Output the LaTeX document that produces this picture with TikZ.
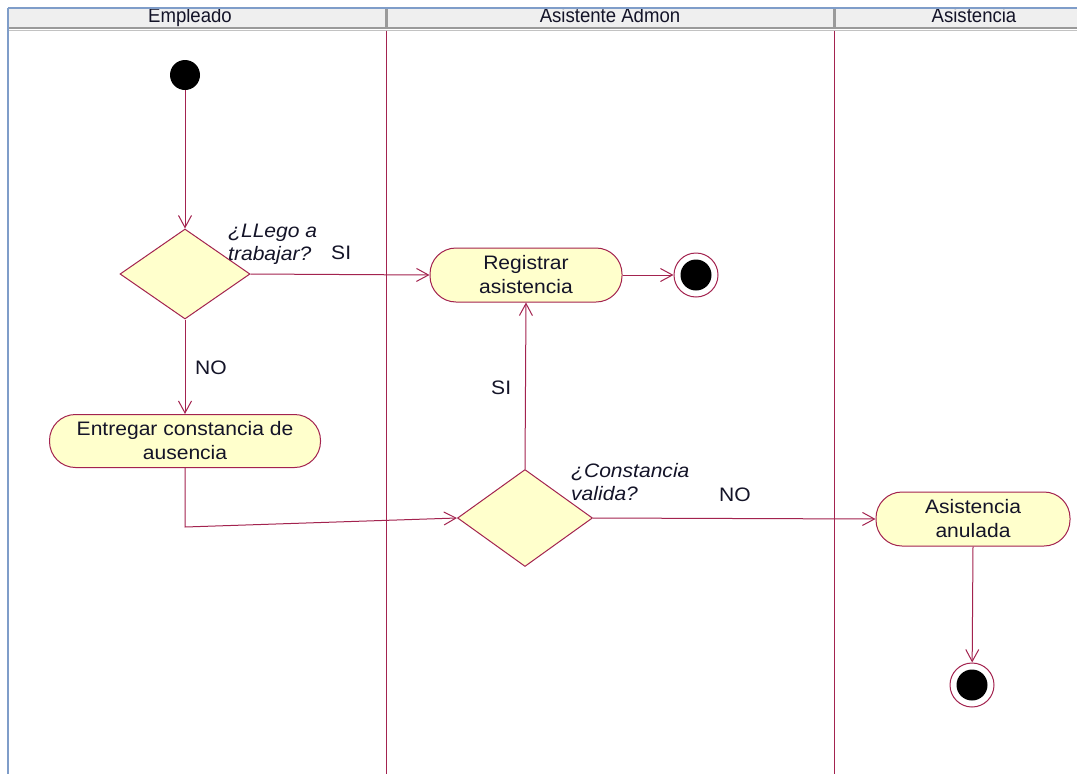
\documentclass[tikz,border=0pt]{standalone}
\usepackage{fontspec}
\usepackage{graphicx}
\setmainfont{Liberation Sans}[FakeStretch=1.08]
\usetikzlibrary{shapes.geometric,arrows.meta}
\definecolor{umlline}{HTML}{A3234F}
\definecolor{umlfill}{HTML}{FFFFCC}
\definecolor{umltext}{HTML}{141428}
\definecolor{lanegray}{HTML}{EFEFEF}
\definecolor{laneedge}{HTML}{9A9A9A}
\definecolor{frameblue}{HTML}{7F9DC9}
\tikzset{
  txt/.style={font=\fontsize{19.5}{24}\selectfont, text=umltext},
  activity/.style={draw=umlline, fill=umlfill, line width=1pt, rounded corners=26pt,
    inner sep=0pt, align=center, txt},
  decision/.style={draw=umlline, fill=umlfill, line width=1pt, diamond, inner sep=0pt},
  guard/.style={txt, inner sep=0pt, anchor=base west},
  question/.style={txt, font=\fontsize{19.5}{23}\selectfont\itshape, align=left,
    inner sep=0pt, anchor=north west},
  flow/.style={draw=umlline, line width=1pt, -{Straight Barb[length=12pt,width=13pt]}},
  lanehead/.style={font=\fontsize{20}{20}\selectfont, text=umltext, inner sep=0pt, anchor=base},
  laneline/.style={draw=umlline, line width=1pt},
}
\newcommand{\lanetitle}[1]{\scalebox{0.86}[1]{#1}}
\begin{document}
\begin{tikzpicture}[x=1pt,y=-1pt]
\useasboundingbox (0,0) rectangle (1077,774);
\fill[white] (0,0) rectangle (1077,774);

% swimlane header band
\fill[lanegray] (8,8) rectangle (1077,27);
\begin{scope}
  \clip (8,9) rectangle (1077,27);
  \node[lanehead] (h1) at (190,22) {\lanetitle{Empleado}};
  \node[lanehead] (h2) at (610,22) {\lanetitle{Asistente Admon}};
  \node[lanehead] (h3) at (974,22) {\lanetitle{Asistencia}};
\end{scope}
\draw[laneedge, line width=2pt] (8,28) -- (1077,28);
\draw[laneedge!60, line width=1pt] (8,30) -- (1077,30);
\draw[laneedge, line width=3pt] (386,9) -- (386,27) (834,9) -- (834,27);
\draw[frameblue, line width=1.2pt] (8,8) -- (1077,8);
\draw[frameblue, line width=1.2pt] (8,8) -- (8,774);

% lane separators
\draw[laneline] (386,30.5) -- (386,774);
\draw[laneline] (834,30.5) -- (834,774);

% nodes
\node[circle, fill=black, minimum size=30pt, inner sep=0pt] (start) at (185,75) {};
\node[decision, minimum width=130pt, minimum height=90pt] (d1) at (185,274) {};
\node[activity, minimum width=192pt, minimum height=54pt] (reg) at (526,275)
  {Registrar\\asistencia};
\node[circle, draw=umlline, fill=white, line width=1pt, minimum size=44pt, inner sep=0pt] (end1) at (696,275) {};
\node[circle, fill=black, minimum size=31pt, inner sep=0pt] (end1c) at (end1) {};
\node[activity, minimum width=271pt, minimum height=53pt] (ent) at (185,441)
  {Entregar constancia de\\ausencia};
\node[decision, minimum width=135pt, minimum height=97pt] (d2) at (525,518) {};
\node[activity, minimum width=194pt, minimum height=54pt] (anu) at (973,519)
  {Asistencia\\anulada};
\node[circle, draw=umlline, fill=white, line width=1pt, minimum size=44pt, inner sep=0pt] (end2) at (972,685) {};
\node[circle, fill=black, minimum size=31pt, inner sep=0pt] (end2c) at (end2) {};
\coordinate (bend) at (185,527);

% labels
\node[question] (q1) at (228,224) {¿LLego a\\trabajar?};
\node[question] (q2) at (571,463) {¿Constancia\\valida?};
\node[guard] (g1) at (331,259) {SI};
\node[guard] (g2) at (195,374) {NO};
\node[guard] (g3) at (491,394) {SI};
\node[guard] (g4) at (719,501) {NO};

% control flows
\draw[flow] (start) -- (d1.north);
\draw[flow] (d1.east) -- (reg.west);
\draw[flow] (reg.east) -- (end1);
\draw[flow] (d1.south) -- (ent.north);
\draw[flow] (ent.south) -- (bend) -- (d2.west);
\draw[flow] (d2.north) -- (reg.south);
\draw[flow] (d2.east) -- (anu.west);
\draw[flow] (anu.south) -- (end2);
\end{tikzpicture}
\end{document}
